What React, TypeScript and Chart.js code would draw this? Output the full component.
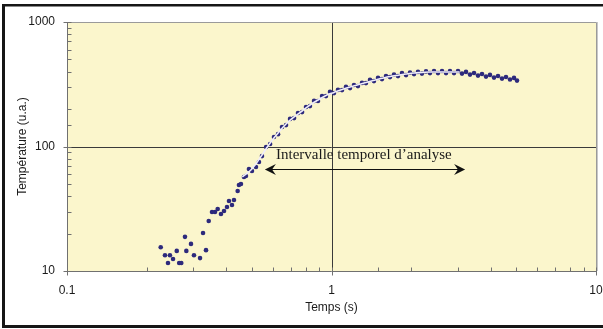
import { useEffect, useRef } from 'react';
import { Chart, registerables } from 'chart.js';

Chart.register(...registerables);

// Measured temperature rise (u.a.) versus time (s)
const measuredTimes = [
  0.2261, 0.2347, 0.245, 0.2517, 0.2409, 0.2655, 0.2705, 0.26, 0.2793, 0.2826, 0.2943, 0.302,
  0.3184, 0.3354, 0.3268, 0.3434, 0.3534, 0.3627, 0.3713, 0.3821, 0.3923, 0.4026, 0.4097,
  0.4205, 0.4279, 0.4418, 0.4468, 0.4546, 0.4667, 0.4748, 0.4874, 0.5003, 0.5181, 0.5318,
  0.546, 0.566, 0.586, 0.606, 0.628, 0.65, 0.673, 0.697, 0.722, 0.747, 0.774, 0.801, 0.829,
  0.859, 0.889, 0.921, 0.953, 0.987, 1.022, 1.058, 1.096, 1.134, 1.175, 1.216, 1.259, 1.304,
  1.35, 1.398, 1.447, 1.499, 1.552, 1.607, 1.664, 1.723, 1.784, 1.847, 1.913, 1.981, 2.051,
  2.123, 2.198, 2.277, 2.357, 2.441, 2.527, 2.617, 2.71, 2.805, 2.905, 3.008, 3.114, 3.225,
  3.339, 3.458, 3.58, 3.707, 3.838, 3.974, 4.115, 4.261, 4.412, 4.568, 4.73, 4.898, 5.027,
];
const measuredTemps = [
  15.5, 13.4, 13.4, 12.5, 11.6, 11.6, 11.6, 14.5, 18.8, 14.5, 16.5, 13.4,
  12.7, 14.7, 20.2, 25.2, 29.8, 29.8, 31.5, 28.7, 30.3, 32.7, 36.5,
  33.9, 37.2, 43.9, 49.1, 50.0, 56.9, 57.9, 65.9, 63.6, 68.4, 75.1,
  83.7, 99.2, 104.6, 119.3, 125.7, 143.6, 148.6, 166.6, 169.1, 186, 189, 207.9, 211.1,
  232.4, 231.7, 254.8, 254.1, 274.4, 268.6, 284.8, 283.9, 301, 294.6, 312.3, 305.7, 324.1,
  323.1, 342.6, 335.3, 355.5, 347.9, 368.8, 361, 379.2, 367.7, 389.9, 374.7, 393.5, 381.6,
  397.2, 385.1, 400.9, 388.8, 404.6, 388.8, 404.6, 388.8, 404.6, 388.8, 404.6, 385.1, 397.2,
  378.1, 389.9, 371.2, 382.7, 364.4, 375.8, 357.7, 368.8, 351.1, 362.1, 344.8, 355.5, 338.4,
];

// Fitted model over the analysis window
const fitTimes = [
  0.46, 0.5, 0.546, 0.586, 0.628, 0.673, 0.722, 0.774, 0.829, 0.889, 0.953, 1.022, 1.096,
  1.175, 1.259, 1.35, 1.447, 1.552, 1.664, 1.784, 1.913, 2.051, 2.198, 2.357, 2.527, 2.71,
  2.905, 3.05,
];
const fitTemps = [
  57, 66, 85.4, 106.7, 128.3, 151.6, 172.6, 192.8, 215.4, 236.4, 257, 272, 287,
  300.6, 313, 327, 340, 353, 365, 374, 382.3, 389.4, 393, 396.7, 396.7, 396.7,
  396.7, 396.5,
];

// Axis ranges and labelled decades
const timeRange = [0.1, 10];
const tempRange = [10, 1000];
const timeLabels = [0.1, 1, 10];
const tempLabels = [10, 100, 1000];

// Analysis interval annotation
const intervalStart = 0.56;
const intervalEnd = 3.2;
const intervalLevel = 66;
const intervalText = 'Intervalle temporel d’analyse';
const intervalTextTime = 0.617;
const intervalTextLevel = 80;

const MARKER = '#2d2a7c';
const PLOT_BG = '#fbf6cc';
const SANS = 'Arial, "Liberation Sans", sans-serif';

const isDecade = (v: number) => Math.abs(Math.log10(v) - Math.round(Math.log10(v))) < 1e-6;

const framePlugin = {
  id: 'frame',
  beforeDraw(chart: any) {
    const { ctx, chartArea: a, width, height } = chart;
    ctx.save();
    ctx.fillStyle = '#ffffff';
    ctx.fillRect(0, 0, width, height);
    ctx.fillStyle = PLOT_BG;
    ctx.fillRect(a.left, a.top, a.right - a.left, a.bottom - a.top);
    // outer black frame
    ctx.fillStyle = '#161616';
    ctx.fillRect(2, 4, 3, height - 7);
    ctx.fillRect(2, 4, width, 2.5);
    ctx.fillRect(2, height - 4, width, 3);
    ctx.restore();
  },
  beforeDatasetsDraw(chart: any) {
    const { ctx, chartArea: a } = chart;
    const xs = chart.scales.x;
    const ys = chart.scales.y;
    ctx.save();
    // major gridlines at the inner decades
    ctx.strokeStyle = '#3a3a3a';
    ctx.lineWidth = 1;
    ctx.beginPath();
    timeLabels.forEach((v) => {
      if (v > timeRange[0] && v < timeRange[1]) {
        const x = Math.round(xs.getPixelForValue(v)) + 0.5;
        ctx.moveTo(x, a.top);
        ctx.lineTo(x, a.bottom);
      }
    });
    tempLabels.forEach((v) => {
      if (v > tempRange[0] && v < tempRange[1]) {
        const y = Math.round(ys.getPixelForValue(v)) + 0.5;
        ctx.moveTo(a.left, y);
        ctx.lineTo(a.right, y);
      }
    });
    ctx.stroke();

    // plot border
    ctx.strokeStyle = '#9a9a9a';
    ctx.beginPath();
    ctx.moveTo(a.left, a.top + 0.5);
    ctx.lineTo(a.right + 0.5, a.top + 0.5);
    ctx.lineTo(a.right + 0.5, a.bottom);
    ctx.stroke();
    ctx.strokeStyle = '#c8c8c8';
    ctx.beginPath();
    ctx.moveTo(a.right + 1.5, a.top);
    ctx.lineTo(a.right + 1.5, a.bottom);
    ctx.stroke();

    // axes with inside ticks
    ctx.strokeStyle = '#707070';
    ctx.beginPath();
    const lx = Math.round(a.left) + 0.5;
    const by = Math.round(a.bottom) + 0.5;
    ctx.moveTo(lx, a.top);
    ctx.lineTo(lx, by);
    ctx.lineTo(a.right, by);
    ys.ticks.forEach((t: any) => {
      const y = Math.round(ys.getPixelForValue(t.value)) + 0.5;
      if (isDecade(t.value)) {
        ctx.moveTo(lx - 4, y);
        ctx.lineTo(lx + 4, y);
      } else {
        ctx.moveTo(lx, y);
        ctx.lineTo(lx + 4, y);
      }
    });
    xs.ticks.forEach((t: any) => {
      const x = Math.round(xs.getPixelForValue(t.value)) + 0.5;
      if (isDecade(t.value)) {
        ctx.moveTo(x, by - 4);
        ctx.lineTo(x, by + 4);
      } else {
        ctx.moveTo(x, by - 4);
        ctx.lineTo(x, by);
      }
    });
    ctx.stroke();
    ctx.restore();
  },
  afterDatasetsDraw(chart: any) {
    const { ctx } = chart;
    const xs = chart.scales.x;
    const ys = chart.scales.y;
    const x0 = xs.getPixelForValue(intervalStart);
    const x1 = xs.getPixelForValue(intervalEnd);
    const y = Math.round(ys.getPixelForValue(intervalLevel)) + 0.5;
    const L = 11;
    const W = 5.5;
    ctx.save();
    ctx.strokeStyle = '#111111';
    ctx.fillStyle = '#111111';
    ctx.lineWidth = 1.2;
    ctx.beginPath();
    ctx.moveTo(x0 + 6, y);
    ctx.lineTo(x1 - 6, y);
    ctx.stroke();
    const head = (tip: number, dir: number) => {
      ctx.beginPath();
      ctx.moveTo(tip, y);
      ctx.lineTo(tip + dir * L, y - W);
      ctx.lineTo(tip + dir * L * 0.65, y);
      ctx.lineTo(tip + dir * L, y + W);
      ctx.closePath();
      ctx.fill();
    };
    head(x0, 1);
    head(x1, -1);
    ctx.font = '15px "Liberation Serif", "Times New Roman", serif';
    ctx.textBaseline = 'alphabetic';
    ctx.textAlign = 'left';
    ctx.fillStyle = '#1a1a1a';
    ctx.fillText(intervalText, xs.getPixelForValue(intervalTextTime), ys.getPixelForValue(intervalTextLevel));
    ctx.restore();
  },
};

export default function App() {
  const canvasRef = useRef<HTMLCanvasElement | null>(null);

  useEffect(() => {
    const canvas = canvasRef.current;
    if (!canvas) return;
    const chart = new Chart(canvas, {
      type: 'scatter',
      data: {
        datasets: [
          {
            type: 'line',
            label: 'Ajustement',
            data: fitTimes.map((t, i) => ({ x: t, y: fitTemps[i] })),
            borderColor: '#efedfb',
            borderWidth: 1.6,
            pointRadius: 0,
            tension: 0.4,
            fill: false,
          },
          {
            label: 'Mesure',
            data: measuredTimes.map((t, i) => ({ x: t, y: measuredTemps[i] })),
            backgroundColor: MARKER,
            borderColor: MARKER,
            borderWidth: 0,
            pointRadius: 2.3,
            pointHoverRadius: 2.3,
          },
        ],
      },
      options: {
        responsive: false,
        animation: false,
        devicePixelRatio: 1,
        layout: { padding: { top: 22, right: 7, left: 0, bottom: 0 } },
        plugins: { legend: { display: false }, tooltip: { enabled: false } },
        events: [],
        scales: {
          x: {
            type: 'logarithmic',
            min: timeRange[0],
            max: timeRange[1],
            grid: { display: false, drawTicks: false },
            border: { display: false },
            afterFit: (s: any) => {
              s.height = 58;
              s.paddingLeft = 0;
              s.paddingRight = 0;
            },
            ticks: {
              autoSkip: false,
              maxRotation: 0,
              padding: 12,
              color: '#1a1a1a',
              font: { family: SANS, size: 12 },
              callback: (v: any) => (timeLabels.some((l) => Math.abs(l - v) < 1e-9) ? String(v) : ''),
            },
            title: {
              display: true,
              text: 'Temps (s)',
              color: '#1a1a1a',
              font: { family: SANS, size: 12 },
              padding: { top: 0, bottom: 14 },
            },
          },
          y: {
            type: 'logarithmic',
            min: tempRange[0],
            max: tempRange[1],
            grid: { display: false, drawTicks: false },
            border: { display: false },
            afterFit: (s: any) => {
              s.width = 67;
              s.paddingTop = 0;
              s.paddingBottom = 0;
            },
            ticks: {
              autoSkip: false,
              padding: 12,
              color: '#1a1a1a',
              font: { family: SANS, size: 12 },
              callback: (v: any) => (tempLabels.some((l) => Math.abs(l - v) < 1e-9) ? String(v) : ''),
            },
            title: {
              display: true,
              text: 'Température (u.a.)',
              color: '#1a1a1a',
              font: { family: SANS, size: 12 },
              padding: { top: 15, bottom: 0 },
            },
          },
        },
      },
      plugins: [framePlugin],
    } as any);
    return () => chart.destroy();
  }, []);

  return (
    <div style={{ position: 'fixed', left: 0, top: 0, width: 603, height: 329, background: '#fff' }}>
      <canvas ref={canvasRef} width={603} height={329} style={{ display: 'block', width: 603, height: 329 }} />
    </div>
  );
}
